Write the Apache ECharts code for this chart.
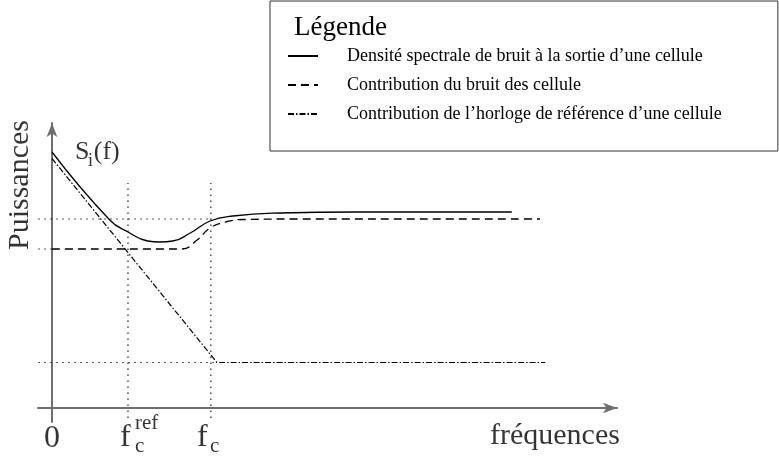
<!DOCTYPE html>
<html>
<head>
<meta charset="utf-8">
<script src="https://cdn.jsdelivr.net/npm/echarts@6/dist/echarts.min.js"></script>
<style>
  html, body { margin: 0; padding: 0; background: #fff; }
  #chart { width: 779px; height: 458px; }
</style>
</head>
<body>
<div id="chart"></div>
<script>
// Frequency axis: unit = f_c^ref ; power axis: arbitrary linear units.
const fcRef = 1.0;
const fc = 2.09;

// Levels used by the dotted guides
const niveauHaut = 18.9;
const niveauBas = 15.9;
const niveauHorloge = 4.55;

// Total noise spectral density at a cell output, S_i(f)
const densiteTotale = [
  [0, 25.6], [0.76, 18.8], [1.0, 17.6], [1.26, 16.7],
  [1.42, 16.6], [1.59, 16.7], [1.82, 17.5], [2.08, 18.7], [2.38, 19.2],
  [3.0, 19.5], [4.0, 19.6], [6.05, 19.6]
];
// Contribution of the cell's own noise
const bruitCellule = [
  [0, 15.9], [1.55, 15.9], [1.71, 15.9], [1.91, 16.8], [2.08, 18.0], [2.28, 18.6],
  [2.54, 18.85], [3.2, 18.9], [6.42, 18.9]
];
// Contribution of the reference clock
const horlogeRef = [
  [0, 24.95], [2.17, 4.55], [6.49, 4.55]
];

const nomsSeries = [
  'Densité spectrale de bruit à la sortie d’une cellule',
  'Contribution du bruit des cellule',
  'Contribution de l’horloge de référence d’une cellule'
];

// Text annotations: [x, y, text, style]
const annotations = [
  [0.303, 25.6, 'S', 'grand'],
  [0.475, 24.7, 'i', 'indice'],
  [0.55, 25.6, '(f)', 'grand'],
  [-0.105, -3.04, '0', 'axe'],
  [0.895, -2.94, 'f', 'axe'],
  [1.092, -3.87, 'c', 'indiceAxe'],
  [1.092, -1.57, 'ref', 'indiceAxe'],
  [1.908, -2.94, 'f', 'axe'],
  [2.079, -3.87, 'c', 'indiceAxe'],
  [5.763, -2.8, 'fréquences', 'titreX']
];
const titreY = [[-0.421, 22.3, 'Puissances']];

const serif = 'Liberation Serif';
const tailles = { grand: 26, indice: 18, axe: 32, indiceAxe: 21, titreX: 30 };

const guideStyle = { color: '#222', width: 1.2, type: [1.5, 4.5] };
function guide(points) {
  return {
    type: 'line', data: points, symbol: 'none', silent: true,
    lineStyle: guideStyle, z: 1
  };
}

const chart = echarts.init(document.getElementById('chart'), null, { renderer: 'canvas' });
chart.setOption({
  animation: false,
  backgroundColor: '#fff',
  title: {
    text: 'Légende', left: 289, top: 9,
    textStyle: { fontFamily: serif, fontSize: 27, fontWeight: 'normal', color: '#000' }
  },
  legend: {
    data: nomsSeries,
    orient: 'vertical',
    left: 270, top: 1,
    padding: [46, 56, 28, 17],
    itemWidth: 30, itemHeight: 14, itemGap: 11,
    borderColor: '#333', borderWidth: 1,
    backgroundColor: '#fff',
    selectedMode: false,
    itemStyle: { opacity: 0, borderWidth: 0 },
    textStyle: { fontFamily: serif, fontSize: 18, color: '#000', padding: [0, 0, 0, 24] }
  },
  grid: { left: 38, right: 162, top: 123, bottom: 36 },
  xAxis: {
    type: 'value', min: -0.184, max: 7.434,
    axisLine: { onZero: true, symbol: ['none', 'arrow'], symbolSize: [8, 14],
      lineStyle: { color: '#6e6e6e', width: 2 } },
    axisTick: { show: false }, axisLabel: { show: false }, splitLine: { show: false }
  },
  yAxis: {
    type: 'value', min: -1.4, max: 28.5,
    axisLine: { onZero: true, symbol: ['none', 'arrow'], symbolSize: [8, 14],
      lineStyle: { color: '#6e6e6e', width: 2 } },
    axisTick: { show: false }, axisLabel: { show: false }, splitLine: { show: false }
  },
  series: [
    guide([[fcRef, -1.0], [fcRef, 22.5]]),
    guide([[fc, -1.0], [fc, 22.5]]),
    guide([[-0.18, niveauHaut], [fc, niveauHaut]]),
    guide([[-0.18, niveauBas], [0, niveauBas]]),
    guide([[-0.18, niveauHorloge], [2.17, niveauHorloge]]),
    {
      name: nomsSeries[0], type: 'line', data: densiteTotale, symbol: 'none',
      smooth: 0.5,
      lineStyle: { color: '#000', width: 1.3, type: 'solid' }, itemStyle: { color: '#000' }, z: 3
    },
    {
      name: nomsSeries[1], type: 'line', data: bruitCellule, symbol: 'none',
      smooth: 0.5,
      lineStyle: { color: '#000', width: 1.3, type: [8, 5] }, itemStyle: { color: '#000' }, z: 3
    },
    {
      name: nomsSeries[2], type: 'line', data: horlogeRef, symbol: 'none',
      lineStyle: { color: '#000', width: 1.2, type: [6, 2, 1.5, 2] }, itemStyle: { color: '#000' }, z: 3
    },
    {
      type: 'scatter', silent: true, clip: false, symbolSize: 1,
      itemStyle: { color: 'rgba(0,0,0,0)' },
      data: annotations.map(a => ({
        value: [a[0], a[1]],
        label: {
          show: true, position: 'inside', align: 'left', verticalAlign: 'middle',
          formatter: a[2], fontFamily: serif, fontSize: tailles[a[3]], color: '#000'
        }
      })),
      z: 5
    },
    {
      type: 'scatter', silent: true, clip: false, symbolSize: 1,
      itemStyle: { color: 'rgba(0,0,0,0)' },
      data: titreY.map(a => ({
        value: [a[0], a[1]],
        label: {
          show: true, position: 'inside', rotate: 90, align: 'center', verticalAlign: 'middle',
          formatter: a[2], fontFamily: serif, fontSize: 30, color: '#000'
        }
      })),
      z: 5
    }
  ]
});
</script>
</body>
</html>
